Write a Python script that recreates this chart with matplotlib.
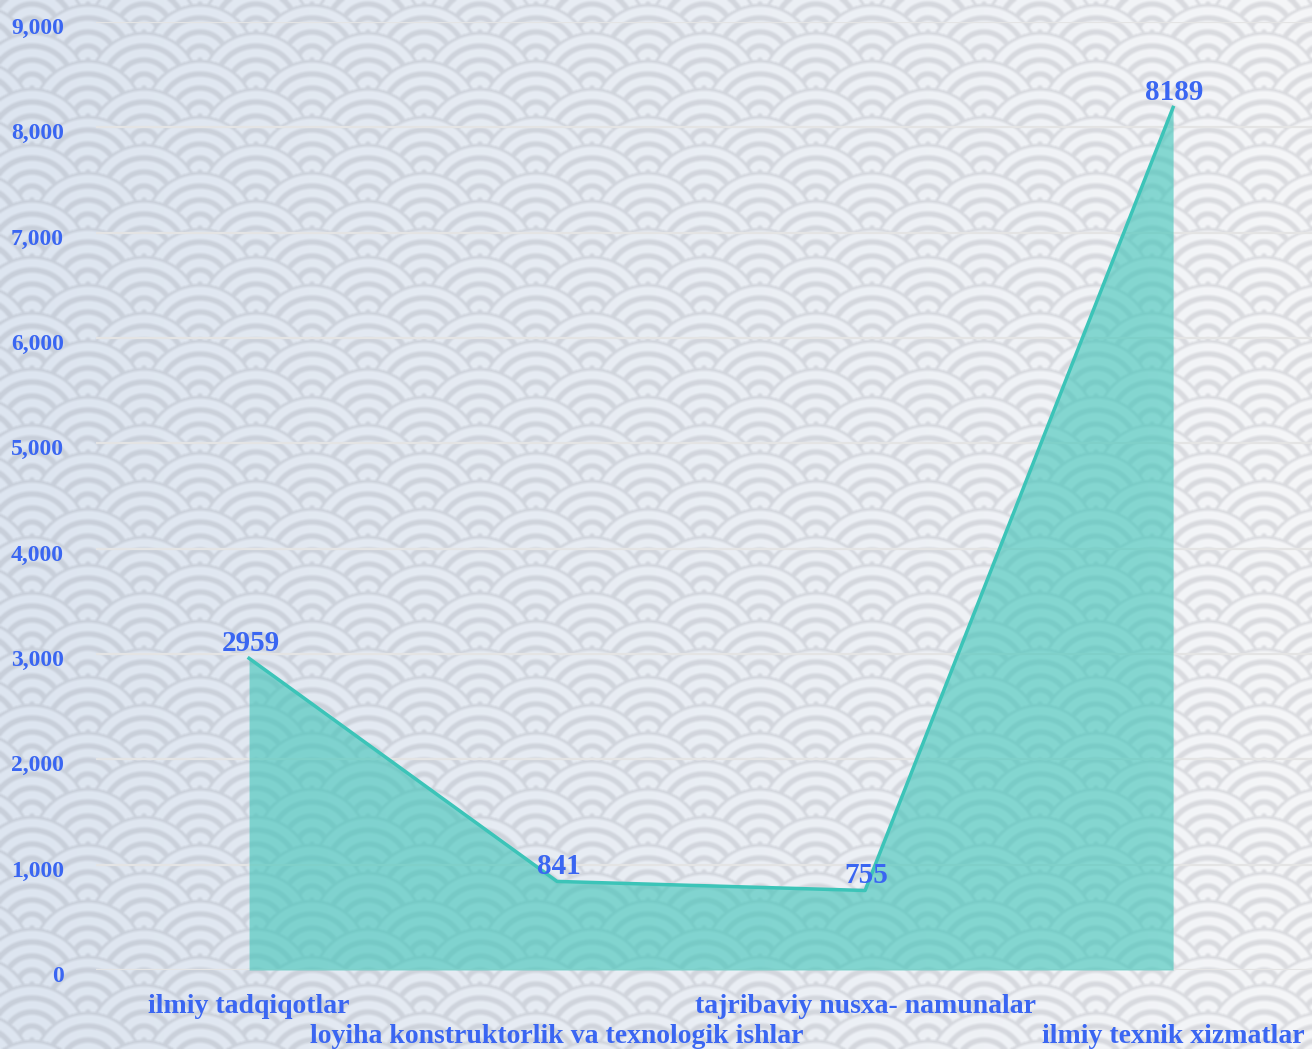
import numpy as np
import matplotlib
matplotlib.use('Agg')
import matplotlib.pyplot as plt
import matplotlib.transforms as mtransforms
from matplotlib.ticker import StrMethodFormatter

# data
categories = ["ilmiy tadqiqotlar",
              "loyiha konstruktorlik va texnologik ishlar",
              "tajribaviy nusxa- namunalar",
              "ilmiy texnik xizmatlar"]
values = [2959, 841, 755, 8189]
y_ticks = [0, 1000, 2000, 3000, 4000, 5000, 6000, 7000, 8000, 9000]

W, H = 1312, 1049
blue = '#3a66f2'
teal = '#3cc4b8'
plt.rcParams['font.family'] = ['Liberation Serif', 'DejaVu Serif']

fig = plt.figure(figsize=(W / 100, H / 100), dpi=100)

# seigaiha background (wave scales), drawn as an image
X, Y = np.meshgrid(np.arange(W) + 0.5, np.arange(H) + 0.5)
D = np.full(X.shape, 100.0)
r_scale = 56
for j in range(-3, H // 28 + 4):
    cy = 4 + 28 * j
    cx0 = 88 + 56 * (j % 2)
    dx = ((X - cx0 + 56) % 112) - 56
    d = np.sqrt(dx ** 2 + (Y - cy) ** 2)
    m = d < r_scale
    D[m] = d[m]
dd = D % 14
near = np.minimum(dd, 14 - dd)
g = np.clip((3.3 - near) / 1.2, 0, 1)
# soften a little
gp = np.pad(g, 1, mode='edge')
g = sum(gp[1 + a:H + 1 + a, 1 + b:W + 1 + b] for a in (-1, 0, 1) for b in (-1, 0, 1)) / 9.0

t = (X / W)[..., None]
light = (1 - t) * np.array([221, 229, 240]) + t * np.array([245, 246, 248])
ring = (1 - t) * np.array([200, 207, 218]) + t * np.array([219, 220, 224])
img = light * (1 - g[..., None]) + ring * g[..., None]

bg = fig.add_axes([0, 0, 1, 1])
bg.imshow(img.astype(np.uint8), extent=[0, W, H, 0], aspect='auto', interpolation='none')
bg.set_axis_off()

# main chart
ax = fig.add_axes([96 / W, 1 - 970 / H, 1 - 96 / W, (970 - 22) / H])
ax.patch.set_alpha(0)
x = np.arange(len(values))
ax.fill_between(x, values, 0, color=teal, alpha=0.6, linewidth=0, zorder=2)
ax.plot(x, values, color=teal, linewidth=2.5, zorder=3)

for xi, v in zip(x, values):
    ax.annotate(str(v), (xi, v), xytext=(1, 1), textcoords='offset points',
                ha='center', va='bottom', color=blue, fontsize=21,
                fontweight='bold', zorder=4)

ax.set_xlim(-0.497, 3.451)
ax.set_ylim(0, 9000)
ax.set_yticks(y_ticks)
ax.yaxis.set_major_formatter(StrMethodFormatter('{x:,.0f}'))
ax.set_xticks(x)
ax.set_xticklabels(categories)
ax.grid(axis='y', color='#e4e4e4', linewidth=1.6, zorder=1)
ax.set_axisbelow(True)
for s in ax.spines.values():
    s.set_visible(False)
ax.tick_params(axis='y', length=0, pad=23, labelsize=17, labelcolor=blue)
ax.tick_params(axis='x', length=0, labelsize=20, labelcolor=blue)
shift = mtransforms.ScaledTranslation(0, -4 / 100, fig.dpi_scale_trans)
for lab in ax.get_yticklabels():
    lab.set_fontweight('bold')
    lab.set_transform(lab.get_transform() + shift)
for lab in ax.get_xticklabels():
    lab.set_fontweight('bold')
for i, tk in enumerate(ax.xaxis.get_major_ticks()):
    tk.set_pad(17 if i % 2 == 0 else 39)

fig.savefig('out.png', dpi=100)
